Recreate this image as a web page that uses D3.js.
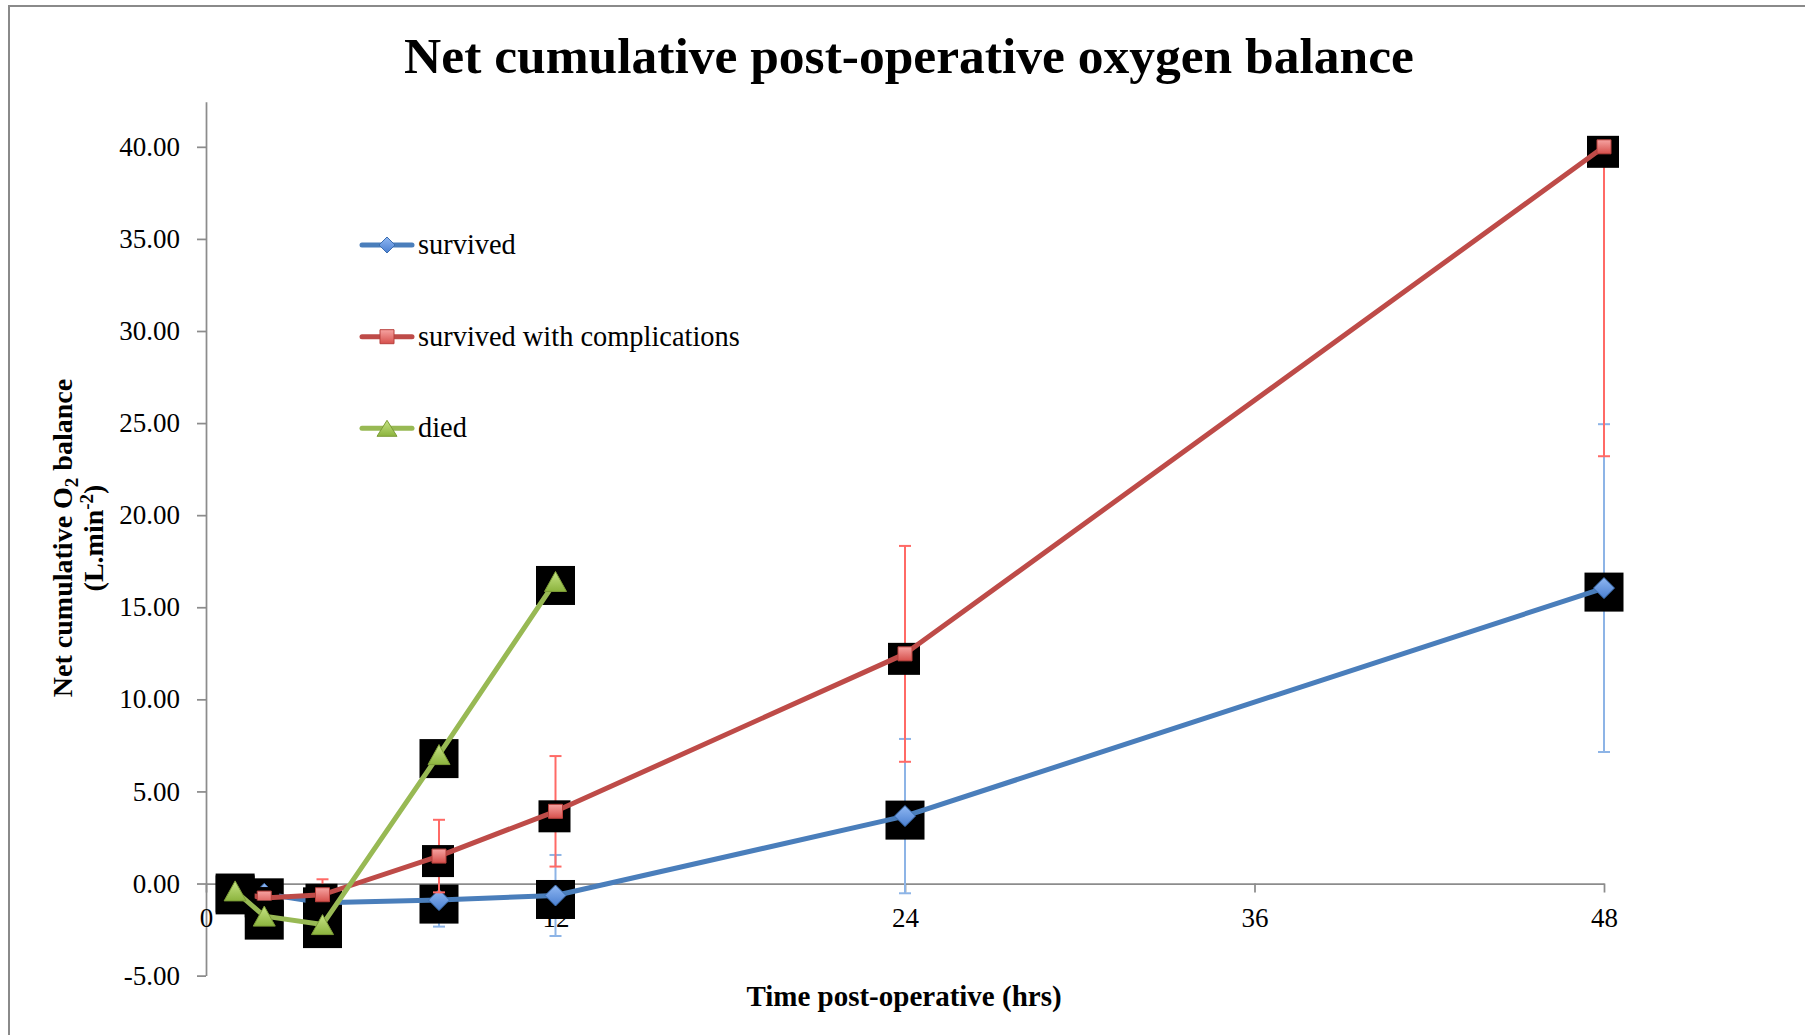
<!DOCTYPE html>
<html>
<head>
<meta charset="utf-8">
<script src="https://cdn.jsdelivr.net/npm/d3@7"></script>
<style>
  html, body { margin: 0; padding: 0; background: #fff; }
  svg { display: block; }
  text { font-family: "Liberation Serif", "Times New Roman", serif; fill: #000; }
</style>
</head>
<body>
<script>
// Time points (hours after surgery)
const hours = [1, 2, 4, 8, 12, 24, 48];
const diedHours = [1, 2, 4, 8, 12];

// Net cumulative O2 balance (L.min-2), mean values
const survived = [-0.30, -0.56, -1.05, -0.90, -0.65, 3.66, 16.04];
const complications = [-0.45, -0.79, -0.61, 1.49, 3.92, 12.47, 40.00];
const died = [-0.40, -1.77, -2.23, 7.00, 16.40];

// Error bar half-widths
const survivedErr = [0.30, 0.40, 0.50, 1.44, 2.20, 4.19, 8.90];
const complicationsErr = [0.30, 0.50, 0.84, 1.97, 3.00, 5.86, 16.80];

// Axis ticks
const xTicks = [0, 12, 24, 36, 48];
const yTicks = [-5, 0, 5, 10, 15, 20, 25, 30, 35, 40];

const seriesNames = ["survived", "survived with complications", "died"];

const W = 1805, H = 1035;
const svg = d3.select("body").append("svg")
  .attr("width", W).attr("height", H)
  .attr("viewBox", `0 0 ${W} ${H}`);

// gradients for marker fills
const defs = svg.append("defs");
function grad(id, top, bottom) {
  const g = defs.append("linearGradient").attr("id", id)
    .attr("x1", 0).attr("y1", 0).attr("x2", 0).attr("y2", 1);
  g.append("stop").attr("offset", "0%").attr("stop-color", top);
  g.append("stop").attr("offset", "100%").attr("stop-color", bottom);
}
grad("gBlue", "#8fb7f2", "#4a7fd0");
grad("gRed", "#f6a3a1", "#d6504c");
grad("gGreen", "#c6e384", "#8cb43e");

// outer chart frame (top and left edges)
svg.append("path")
  .attr("d", `M9,${H} V6 H${W}`)
  .attr("fill", "none").attr("stroke", "#8a8a8a").attr("stroke-width", 2);

// title
svg.append("text")
  .attr("x", 909).attr("y", 73)
  .attr("text-anchor", "middle")
  .style("font-size", "51.5px").style("font-weight", "bold")
  .text("Net cumulative post-operative oxygen balance");

const x = d3.scaleLinear().domain([0, 48]).range([206, 1604]);
const y = d3.scaleLinear().domain([-5, 42.45]).range([975.6, 101.7]);

const axisColor = "#8c8c8c";
const fmt = v => v.toFixed(2);

const yAxis = svg.append("g")
  .attr("transform", `translate(${x(0)},0)`)
  .call(d3.axisLeft(y).tickValues(yTicks).tickSize(9).tickSizeOuter(0)
    .tickPadding(17).tickFormat(fmt));

const xAxis = svg.append("g")
  .attr("transform", `translate(0,${y(0)})`)
  .call(d3.axisBottom(x).tickValues(xTicks).tickSize(9).tickSizeOuter(0)
    .tickPadding(15.5).tickFormat(d3.format("d")));

[yAxis, xAxis].forEach(g => {
  g.attr("font-family", null).attr("font-size", null);
  g.select(".domain").attr("stroke", axisColor).attr("stroke-width", 1.75);
  g.selectAll(".tick line").attr("stroke", axisColor).attr("stroke-width", 1.75);
  g.selectAll(".tick text")
    .style("font-family", '"Liberation Serif", serif')
    .style("font-size", "27px").attr("fill", "#000");
});

// axis titles
svg.append("text")
  .attr("x", 904).attr("y", 1006)
  .attr("text-anchor", "middle")
  .style("font-size", "29px").style("font-weight", "bold")
  .text("Time post-operative (hrs)");

const yt1 = svg.append("text")
  .attr("transform", "translate(72,538) rotate(-90)")
  .attr("text-anchor", "middle")
  .style("font-size", "28px").style("font-weight", "bold");
yt1.append("tspan").text("Net cumulative O");
yt1.append("tspan").attr("dy", 6).style("font-size", "19px").text("2");
yt1.append("tspan").attr("dy", -6).text(" balance");

const yt2 = svg.append("text")
  .attr("transform", "translate(103,538) rotate(-90)")
  .attr("text-anchor", "middle")
  .style("font-size", "28px").style("font-weight", "bold");
yt2.append("tspan").text("(L.min");
yt2.append("tspan").attr("dy", -10).style("font-size", "19px").text("-2");
yt2.append("tspan").attr("dy", 10).text(")");

// marker shape paths, centred on the data point
function diamondPath(r) { const p = d3.path(); p.moveTo(0, -r); p.lineTo(r, 0); p.lineTo(0, r); p.lineTo(-r, 0); p.closePath(); return p.toString(); }
function squarePath(s) { const p = d3.path(); p.rect(-s / 2, -s / 2, s, s); return p.toString(); }
function trianglePath(w, h) { const p = d3.path(); p.moveTo(0, -h / 2); p.lineTo(w / 2, h / 2); p.lineTo(-w / 2, h / 2); p.closePath(); return p.toString(); }

const series = [
  { name: seriesNames[0], xs: hours, ys: survived, err: survivedErr,
    line: "#4a7ebb", bar: "#8db4e6", fill: "url(#gBlue)", stroke: "#3b6eb0",
    shape: diamondPath(10.5), legendShape: diamondPath(8), box: 39, boxDx: 0, boxDy: 4 },
  { name: seriesNames[1], xs: hours, ys: complications, err: complicationsErr,
    line: "#be4b48", bar: "#ff6a66", fill: "url(#gRed)", stroke: "#b8413d",
    shape: squarePath(14), legendShape: squarePath(14), box: 32, boxDx: -1, boxDy: 5 },
  { name: seriesNames[2], xs: diedHours, ys: died, err: null,
    line: "#98b954", bar: "#98b954", fill: "url(#gGreen)", stroke: "#7c9c37",
    shape: trianglePath(22, 20), legendShape: trianglePath(20, 16), box: 39, boxDx: 0, boxDy: 4 }
];

const [yMin, yMax] = y.domain();
const lineGen = d3.line().x(d => x(d[0])).y(d => y(d[1]));

series.forEach(s => {
  const pts = s.xs.map((h, i) => [h, s.ys[i], s.err ? s.err[i] : 0]);
  const g = svg.append("g").attr("class", "series");

  // error bars: a half is drawn only when it stays inside the axis range
  if (s.err) {
    const eb = g.append("g").attr("stroke", s.bar).attr("stroke-width", 2).attr("fill", "none");
    pts.forEach(([h, v, e]) => {
      const cx = x(h);
      [v + e, v - e].forEach(end => {
        if (end > yMax || end < yMin) return;
        eb.append("line").attr("x1", cx).attr("x2", cx).attr("y1", y(v)).attr("y2", y(end));
        eb.append("line").attr("x1", cx - 6).attr("x2", cx + 6).attr("y1", y(end)).attr("y2", y(end));
      });
    });
  }

  // dark backing squares behind each marker
  g.append("g").selectAll("rect").data(pts).join("rect")
    .attr("x", d => x(d[0]) + s.boxDx - s.box / 2)
    .attr("y", d => y(d[1]) + s.boxDy - s.box / 2)
    .attr("width", s.box).attr("height", s.box)
    .attr("fill", "#000");

  g.append("path").datum(pts)
    .attr("d", lineGen)
    .attr("fill", "none").attr("stroke", s.line)
    .attr("stroke-width", 5).attr("stroke-linejoin", "round");

  g.append("g").selectAll("path").data(pts).join("path")
    .attr("transform", d => `translate(${x(d[0])},${y(d[1])})`)
    .attr("d", s.shape)
    .attr("fill", s.fill).attr("stroke", s.stroke).attr("stroke-width", 1);
});

// legend
const legendRows = [245, 336.7, 428.3];
const legend = svg.append("g");
series.forEach((s, i) => {
  const ly = legendRows[i];
  const row = legend.append("g").attr("transform", `translate(360,${ly})`);
  row.append("line").attr("x1", 2).attr("x2", 52).attr("y1", 0).attr("y2", 0)
    .attr("stroke", s.line).attr("stroke-width", 5).attr("stroke-linecap", "round");
  row.append("path").attr("transform", "translate(27,0)").attr("d", s.legendShape)
    .attr("fill", s.fill).attr("stroke", s.stroke).attr("stroke-width", 1);
  row.append("text").attr("x", 58).attr("y", 9)
    .style("font-size", "28.4px").text(s.name);
});
</script>
</body>
</html>
